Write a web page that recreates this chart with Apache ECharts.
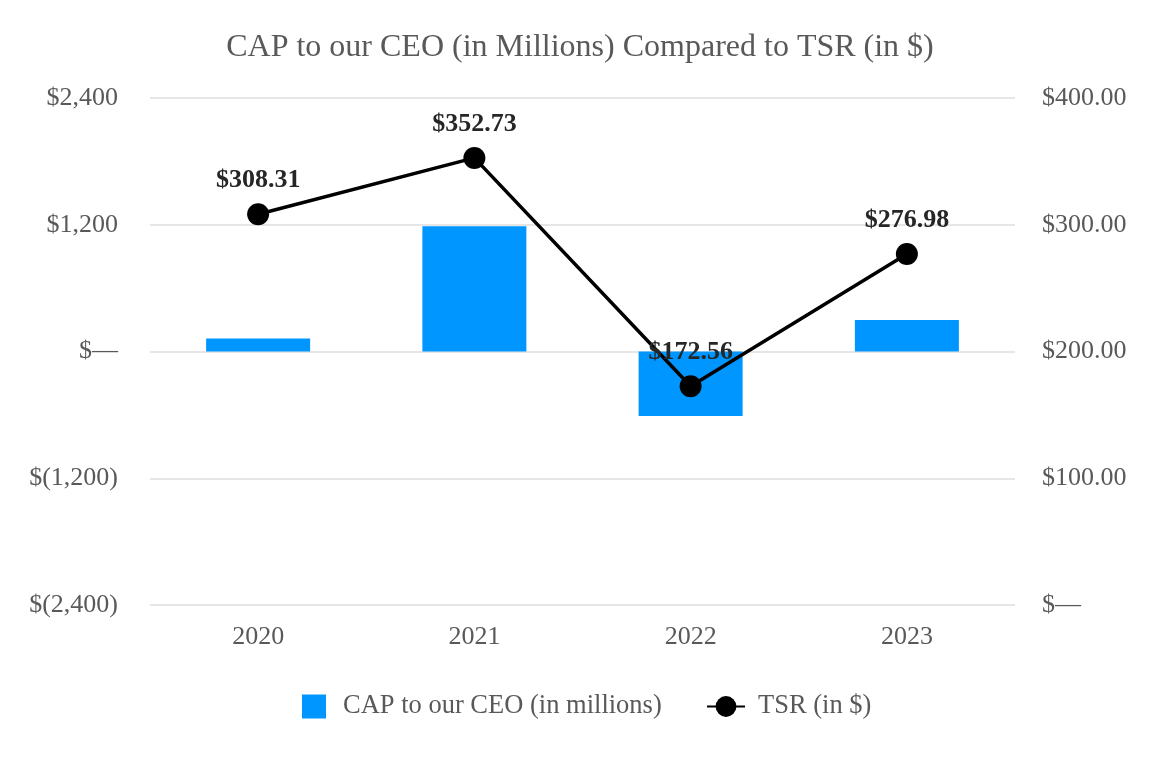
<!DOCTYPE html>
<html>
<head>
<meta charset="utf-8">
<script src="https://cdn.jsdelivr.net/npm/echarts@6/dist/echarts.min.js"></script>
<style>
html,body{margin:0;padding:0;background:#fff;}
#chart{width:1160px;height:760px;}
</style>
</head>
<body>
<div id="chart"></div>
<script>
const categories = ['2020', '2021', '2022', '2023'];
const capValues = [123, 1185, -610, 298];
const tsrValues = [308.31, 352.73, 172.56, 276.98];
const capName = 'CAP to our CEO (in millions)';
const tsrName = 'TSR (in $)';
const titleText = 'CAP to our CEO (in Millions) Compared to TSR (in $)';

const FONT = '"Liberation Serif", "Times New Roman", serif';
const GRAY = '#595959';

function fmtLeft(v) {
  if (v === 0) return '$\u2014';
  const s = Math.abs(v).toLocaleString('en-US');
  return v < 0 ? '$(' + s + ')' : '$' + s;
}
function fmtRight(v) {
  if (v === 0) return '$\u2014';
  return '$' + v.toFixed(2);
}

const chart = echarts.init(document.getElementById('chart'), null, {renderer: 'canvas'});
chart.setOption({
  backgroundColor: '#ffffff',
  animation: false,
  title: {
    text: titleText,
    left: 'center',
    top: 27,
    textStyle: {fontFamily: FONT, fontSize: 32, fontWeight: 'normal', color: GRAY}
  },
  legend: [
    {
      data: [{name: capName, icon: 'rect'}],
      left: 297, top: 688,
      itemWidth: 24, itemHeight: 24,
      textStyle: {fontFamily: FONT, fontSize: 26.5, color: GRAY, padding: [0, 0, 0, 12]}
    },
    {
      data: [{name: tsrName}],
      left: 701, top: 688,
      itemWidth: 38, itemHeight: 26,
      textStyle: {fontFamily: FONT, fontSize: 26.5, color: GRAY, padding: [0, 0, 0, 8]}
    }
  ],
  grid: {left: 150, right: 145, top: 98, bottom: 155, containLabel: false},
  xAxis: {
    type: 'category',
    data: categories,
    axisLine: {show: false},
    axisTick: {show: false},
    axisLabel: {fontFamily: FONT, fontSize: 26, color: GRAY, margin: 19}
  },
  yAxis: [
    {
      type: 'value', min: -2400, max: 2400, interval: 1200,
      axisLine: {show: false}, axisTick: {show: false},
      splitLine: {lineStyle: {color: '#e6e6e6', width: 2}},
      axisLabel: {fontFamily: FONT, fontSize: 26, color: GRAY, margin: 32, formatter: fmtLeft}
    },
    {
      type: 'value', min: 0, max: 400, interval: 100,
      axisLine: {show: false}, axisTick: {show: false},
      splitLine: {show: false},
      axisLabel: {fontFamily: FONT, fontSize: 26, color: GRAY, margin: 27, formatter: fmtRight}
    }
  ],
  series: [
    {
      name: capName,
      type: 'bar',
      yAxisIndex: 0,
      data: capValues,
      barWidth: 104,
      itemStyle: {color: '#0096ff'}
    },
    {
      name: tsrName,
      type: 'line',
      yAxisIndex: 1,
      data: tsrValues,
      symbol: 'circle',
      symbolSize: 22,
      lineStyle: {color: '#000000', width: 3.5},
      itemStyle: {color: '#000000'},
      label: {
        show: true,
        position: 'top',
        distance: 10,
        fontFamily: FONT,
        fontSize: 26,
        fontWeight: 'bold',
        color: '#262626',
        formatter: p => '$' + p.value.toFixed(2)
      }
    }
  ]
});
</script>
</body>
</html>
